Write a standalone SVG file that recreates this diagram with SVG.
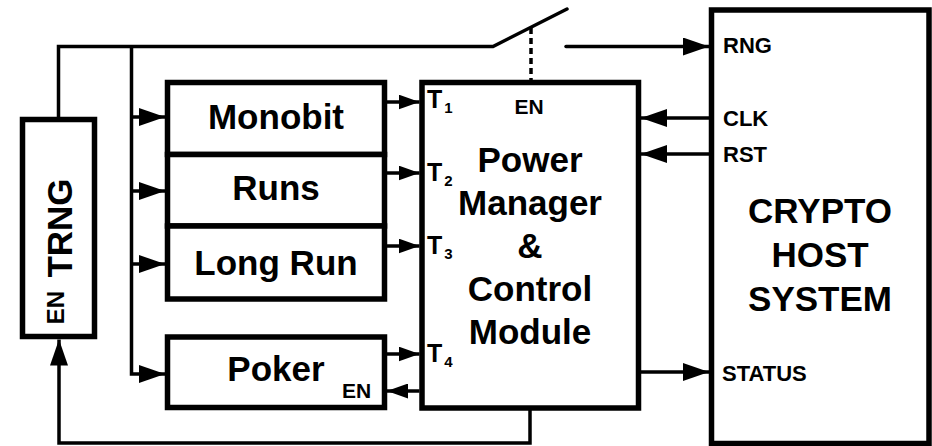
<svg xmlns="http://www.w3.org/2000/svg" width="932" height="446" viewBox="0 0 932 446">
<style>
.box{fill:#fff;stroke:#000;stroke-width:5.5;}
.ln{fill:none;stroke:#000;stroke-width:3.5;}
.t{font-family:"Liberation Sans",Arial,sans-serif;font-weight:bold;fill:#000;}
.big{font-size:35px;text-anchor:middle;}
.port{font-size:22px;}
.tl{font-size:25px;}
.sub{font-size:15px;}
</style>
<defs>
<marker id="ah" markerUnits="userSpaceOnUse" markerWidth="26" markerHeight="18" refX="26" refY="9" orient="auto">
<path d="M0,0 L26,9 L0,18 z" fill="#000"/>
</marker>
<marker id="as" markerUnits="userSpaceOnUse" markerWidth="21" markerHeight="15" refX="21" refY="7.5" orient="auto">
<path d="M0,0 L21,7.5 L0,15 z" fill="#000"/>
</marker>
</defs>
<rect width="932" height="446" fill="#fff"/>

<g id="connectors">
<polyline class="ln" points="58.5,119.5 58.5,46.5 493,46.5 567,9" stroke-linecap="round" stroke-linejoin="miter"/>
<line class="ln" x1="566" y1="46.5" x2="709" y2="46.5" marker-end="url(#ah)" stroke-linecap="round"/>
<line class="ln" x1="531" y1="28" x2="531" y2="80" stroke-dasharray="6,4"/>
<polyline class="ln" points="131.5,46.5 131.5,374 165,374" marker-end="url(#ah)"/>
<line class="ln" x1="131.5" y1="117" x2="165" y2="117" marker-end="url(#ah)"/>
<line class="ln" x1="131.5" y1="191" x2="165" y2="191" marker-end="url(#ah)"/>
<line class="ln" x1="131.5" y1="264" x2="165" y2="264" marker-end="url(#ah)"/>
<line class="ln" x1="387" y1="102" x2="419.5" y2="102" marker-end="url(#as)"/>
<line class="ln" x1="387" y1="173" x2="419.5" y2="173" marker-end="url(#as)"/>
<line class="ln" x1="387" y1="246" x2="419.5" y2="246" marker-end="url(#as)"/>
<line class="ln" x1="387" y1="354" x2="419.5" y2="354" marker-end="url(#as)"/>
<line class="ln" x1="419.5" y1="391" x2="387" y2="391" marker-end="url(#as)"/>
<line class="ln" x1="709" y1="118" x2="641" y2="118" marker-end="url(#ah)"/>
<line class="ln" x1="709" y1="154" x2="641" y2="154" marker-end="url(#ah)"/>
<line class="ln" x1="641" y1="372" x2="709" y2="372" marker-end="url(#ah)"/>
<polyline class="ln" points="530,410 530,443 59,443 59,339.5" marker-end="url(#ah)"/>
</g>

<g id="trng">
<rect class="box" x="22.5" y="119.5" width="72" height="217"/>
<text class="t big" x="72" y="228" transform="rotate(-90 72 228)">TRNG</text>
<text class="t" x="63.5" y="307.5" font-size="24" text-anchor="middle" transform="rotate(-90 63.5 307.5)">EN</text>
</g>

<g id="monobit">
<rect class="box" x="167.5" y="82.5" width="217" height="72"/>
<text class="t big" x="276" y="129">Monobit</text>
</g>
<g id="runs">
<rect class="box" x="167.5" y="154.5" width="217" height="71.5"/>
<text class="t big" x="276" y="200">Runs</text>
</g>
<g id="longrun">
<rect class="box" x="167.5" y="226" width="217" height="73"/>
<text class="t big" x="276" y="275">Long Run</text>
</g>
<g id="poker">
<rect class="box" x="167.5" y="337" width="217" height="70.5"/>
<text class="t big" x="276" y="381">Poker</text>
<text class="t" x="342" y="398" font-size="21">EN</text>
</g>

<g id="power-manager">
<rect class="box" x="422" y="82.5" width="216.5" height="325.5"/>
<text class="t" x="529" y="114" font-size="21" text-anchor="middle">EN</text>
<text class="t tl" x="427" y="108">T<tspan class="sub" dx="2" dy="5">1</tspan></text>
<text class="t tl" x="427" y="181">T<tspan class="sub" dx="2" dy="5">2</tspan></text>
<text class="t tl" x="427" y="254">T<tspan class="sub" dx="2" dy="5">3</tspan></text>
<text class="t tl" x="427" y="362">T<tspan class="sub" dx="2" dy="5">4</tspan></text>
<text class="t big" x="530" y="172">Power</text>
<text class="t big" x="530" y="215">Manager</text>
<text class="t big" x="530" y="258">&amp;</text>
<text class="t big" x="530" y="301">Control</text>
<text class="t big" x="530" y="344">Module</text>
</g>

<g id="crypto-host">
<rect class="box" x="711.5" y="10" width="217.5" height="433.5"/>
<text class="t port" x="723" y="53">RNG</text>
<text class="t port" x="723" y="126">CLK</text>
<text class="t port" x="723" y="162">RST</text>
<text class="t port" x="722" y="381">STATUS</text>
<text class="t big" x="820" y="223">CRYPTO</text>
<text class="t big" x="820" y="267">HOST</text>
<text class="t big" x="820" y="311">SYSTEM</text>
</g>
</svg>
